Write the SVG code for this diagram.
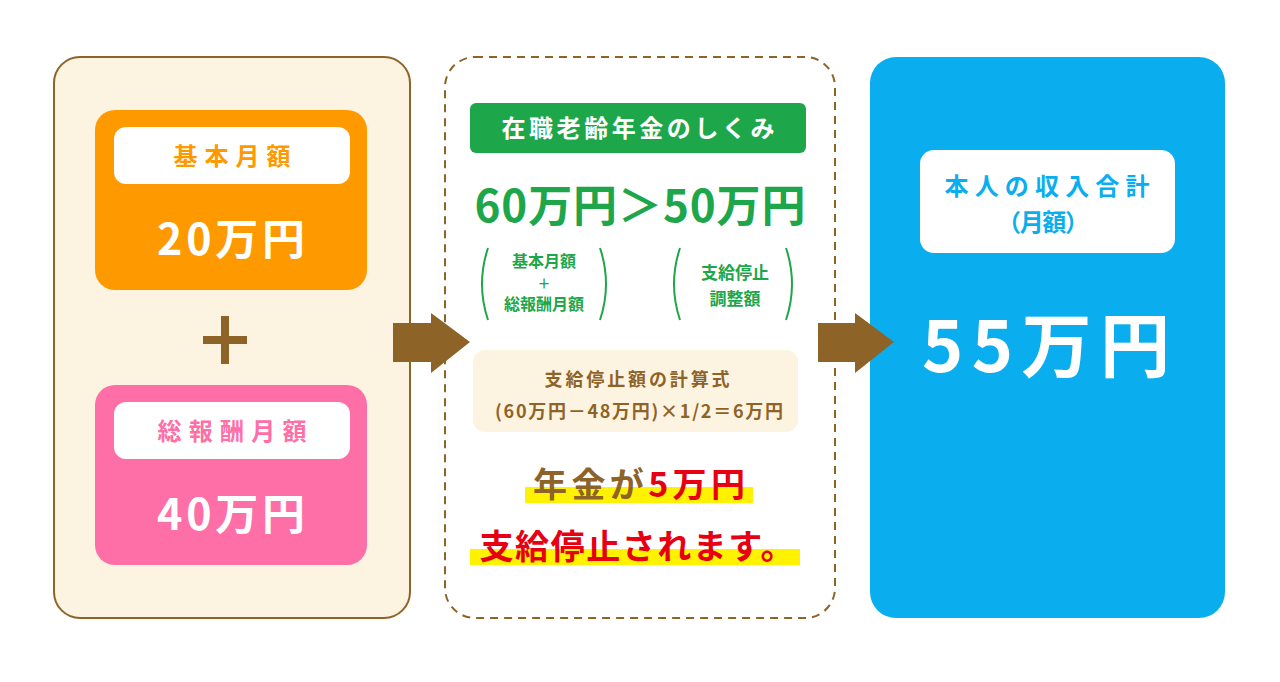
<svg xmlns="http://www.w3.org/2000/svg" width="1280" height="682" viewBox="0 0 1280 682">
<defs>
<style>
text{font-family:"Noto Sans CJK JP","Noto Sans",sans-serif;font-weight:bold;text-anchor:middle}
.brown{fill:#8E6327}
.green{fill:#1DA64A}
.paren{fill:none;stroke:#1DA64A;stroke-width:2}
</style>
</defs>
<rect width="1280" height="682" fill="#ffffff"/>
<g id="left-panel">
<rect x="54" y="57" width="356" height="561" rx="26" fill="#FDF3E1" stroke="#8E6327" stroke-width="2"/>
</g>
<g id="kihon">
<rect x="95" y="110" width="272" height="180" rx="20" fill="#FF9900"/>
<rect x="114" y="127" width="236" height="57" rx="12" fill="#ffffff"/>
<text x="232" y="165" font-size="24" fill="#FF9900" textLength="117" lengthAdjust="spacing">基本月額</text>
<text x="231" y="255" font-size="43" fill="#ffffff" textLength="148" lengthAdjust="spacing">20万円</text>
</g>
<g id="plus">
<rect x="203" y="336" width="44" height="8" class="brown"/>
<rect x="221" y="316" width="8" height="48" class="brown"/>
</g>
<g id="souhoshu">
<rect x="95" y="385" width="272" height="180" rx="20" fill="#FF6FA7"/>
<rect x="114" y="402" width="236" height="57" rx="12" fill="#ffffff"/>
<text x="232" y="440" font-size="24" fill="#FF6FA7" textLength="149" lengthAdjust="spacing">総報酬月額</text>
<text x="231" y="530" font-size="43" fill="#ffffff" textLength="148" lengthAdjust="spacing">40万円</text>
</g>
<g id="middle-panel">
<rect x="445" y="57" width="390" height="561" rx="30" fill="#ffffff" stroke="#8E6327" stroke-width="2" stroke-dasharray="8 6"/>
<rect x="470" y="103" width="336" height="50" rx="6" fill="#1DA64A"/>
<text x="638" y="137" font-size="24" fill="#ffffff" textLength="273" lengthAdjust="spacing">在職老齢年金のしくみ</text>
<text x="640" y="222" font-size="44" class="green" textLength="331" lengthAdjust="spacing">60万円＞50万円</text>
<path class="paren" d="M488 248 Q476 284 488 320"/>
<path class="paren" d="M600 248 Q612 284 600 320"/>
<text x="544" y="267" font-size="16" class="green">基本月額</text>
<text x="544" y="288" font-size="13" class="green">＋</text>
<text x="544" y="310" font-size="16" class="green">総報酬月額</text>
<path class="paren" d="M680 248 Q668 284 680 320"/>
<path class="paren" d="M786 248 Q798 284 786 320"/>
<text x="735" y="279" font-size="17" class="green">支給停止</text>
<text x="735" y="305" font-size="17" class="green">調整額</text>
<rect x="473" y="350" width="325" height="82" rx="12" fill="#FDF3E1"/>
<text x="637" y="386" font-size="18" class="brown" textLength="185" lengthAdjust="spacing">支給停止額の計算式</text>
<text x="639" y="418" font-size="18" class="brown" textLength="288" lengthAdjust="spacing">(60万円－48万円)×1/2＝6万円</text>
<rect x="525" y="487" width="228" height="16" fill="#FFF200"/>
<text x="639" y="497" font-size="34" textLength="212" lengthAdjust="spacing"><tspan class="brown">年金が</tspan><tspan fill="#E60012">5万円</tspan></text>
<rect x="470" y="549" width="330" height="16" fill="#FFF200"/>
<text x="637" y="559" font-size="34" fill="#E60012" textLength="315" lengthAdjust="spacing">支給停止されます。</text>
</g>
<g id="right-panel">
<rect x="870" y="57" width="355" height="561" rx="26" fill="#0AAEEF"/>
<rect x="920" y="150" width="255" height="103" rx="14" fill="#ffffff"/>
<text x="1047" y="195" font-size="24" fill="#0AAEEF" textLength="205" lengthAdjust="spacing">本人の収入合計</text>
<text x="1043" y="231" font-size="24" fill="#0AAEEF" textLength="92" lengthAdjust="spacing">（月額）</text>
<text x="1046" y="372" font-size="70" fill="#ffffff" textLength="248" lengthAdjust="spacing">55万円</text>
</g>
<g id="connectors">
<path d="M393 323 H431 V313 L470 342 L431 373 V362 H393 Z" class="brown"/>
<path d="M818 323 H855 V313 L894 342 L855 373 V362 H818 Z" class="brown"/>
</g>
</svg>
